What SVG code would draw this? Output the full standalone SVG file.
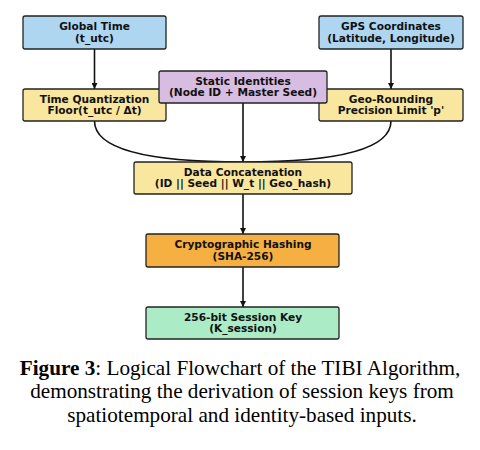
<svg xmlns="http://www.w3.org/2000/svg" width="480" height="450" viewBox="0 0 480 450">
<style>
.box{stroke:#222;stroke-width:1.3}
.t{font-family:"DejaVu Sans",sans-serif;font-weight:bold;font-size:10.6px;fill:#111;text-anchor:middle}
.c{stroke:#111;stroke-width:1.6;fill:none}
.cap{font-family:"Liberation Serif","Times New Roman",serif;font-size:21.2px;fill:#000;text-anchor:middle}
</style>
<defs>
<marker id="ah" viewBox="0 0 10 10" refX="10" refY="5" markerWidth="6" markerHeight="6" markerUnits="userSpaceOnUse" orient="auto">
<path d="M0,0 L10,5 L0,10 z" fill="#111"/>
</marker>
</defs>
<rect width="480" height="450" fill="#fff"/>
<g id="connectors">
<path class="c" d="M94.5,49 V89" marker-end="url(#ah)"/>
<path class="c" d="M391,49 V89" marker-end="url(#ah)"/>
<path class="c" d="M94.5,121 Q94.5,162 243,162"/>
<path class="c" d="M391,121 Q391,162 243,162"/>
<path class="c" d="M243,103 V162" marker-end="url(#ah)"/>
<path class="c" d="M243,194 V234" marker-end="url(#ah)"/>
<path class="c" d="M243,267 V307" marker-end="url(#ah)"/>
</g>
<g id="global-time">
<rect class="box" x="23" y="16" width="143" height="33" rx="2" fill="#AED6F1"/>
<text class="t" x="94.5" y="30">Global Time</text>
<text class="t" x="94.5" y="41.5">(t_utc)</text>
</g>
<g id="gps">
<rect class="box" x="319" y="16" width="144" height="33" rx="2" fill="#AED6F1"/>
<text class="t" x="391" y="30">GPS Coordinates</text>
<text class="t" x="391" y="41.5">(Latitude, Longitude)</text>
</g>
<g id="time-quant">
<rect class="box" x="23" y="89" width="143" height="32" rx="2" fill="#F9E79F"/>
<text class="t" x="94.5" y="102.5">Time Quantization</text>
<text class="t" x="94.5" y="114">Floor(t_utc / Δt)</text>
</g>
<g id="geo-round">
<rect class="box" x="319" y="89" width="144" height="32" rx="2" fill="#F9E79F"/>
<text class="t" x="391" y="102.5">Geo-Rounding</text>
<text class="t" x="391" y="114">Precision Limit 'p'</text>
</g>
<g id="static-id">
<rect class="box" x="159" y="71" width="168" height="32" rx="2" fill="#D7BDE2"/>
<text class="t" x="243" y="84.5">Static Identities</text>
<text class="t" x="243" y="96">(Node ID + Master Seed)</text>
</g>
<g id="concat">
<rect class="box" x="134" y="162" width="218" height="32" rx="2" fill="#F9E79F"/>
<text class="t" x="243" y="175.5">Data Concatenation</text>
<text class="t" x="243" y="187">(ID || Seed || W_t || Geo_hash)</text>
</g>
<g id="hash">
<rect class="box" x="146" y="234" width="193" height="33" rx="2" fill="#F5B041"/>
<text class="t" x="243" y="248">Cryptographic Hashing</text>
<text class="t" x="243" y="259.5">(SHA-256)</text>
</g>
<g id="session-key">
<rect class="box" x="146" y="307" width="193" height="32" rx="2" fill="#ABEBC6"/>
<text class="t" x="243" y="320.5">256-bit Session Key</text>
<text class="t" x="243" y="332">(K_session)</text>
</g>
<g id="caption">
<text class="cap" x="240" y="375"><tspan font-weight="bold">Figure 3</tspan>: Logical Flowchart of the TIBI Algorithm,</text>
<text class="cap" x="242" y="398">demonstrating the derivation of session keys from</text>
<text class="cap" x="242" y="421.5">spatiotemporal and identity-based inputs.</text>
</g>
</svg>
